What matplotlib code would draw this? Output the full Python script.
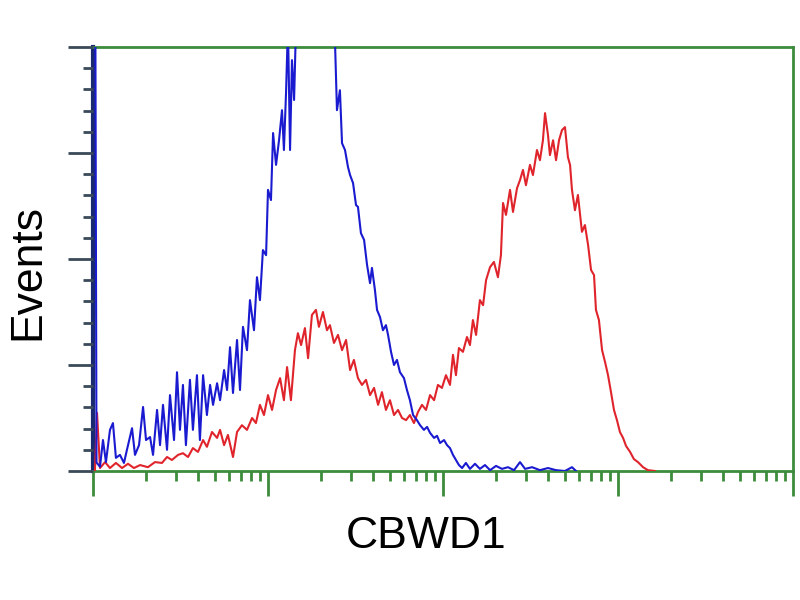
import numpy as np
import matplotlib.pyplot as plt

# ── Data: log fluorescence (decades) and event counts ──
blue_x = [0.0, 0.012, 0.02, 0.04, 0.057, 0.074, 0.097, 0.114, 0.131, 0.154, 0.177, 0.194,
          0.223, 0.24, 0.263, 0.286, 0.303, 0.326, 0.343, 0.366, 0.383, 0.40, 0.423, 0.44,
          0.463, 0.48, 0.497, 0.514, 0.531, 0.554, 0.571, 0.594, 0.611, 0.629, 0.651, 0.669,
          0.686, 0.709, 0.726, 0.749, 0.766, 0.783, 0.80, 0.823, 0.84, 0.857, 0.88, 0.897,
          0.92, 0.937, 0.954, 0.971, 0.989, 1.0, 1.017, 1.029, 1.046, 1.063, 1.08, 1.091,
          1.103, 1.114, 1.126, 1.137, 1.149, 1.16, 1.24, 1.297, 1.354, 1.383, 1.394, 1.411,
          1.423, 1.44, 1.457, 1.469, 1.486, 1.503, 1.514, 1.531, 1.549, 1.566, 1.583, 1.594,
          1.611, 1.623, 1.64, 1.657, 1.674, 1.686, 1.703, 1.72, 1.737, 1.754, 1.777, 1.794,
          1.811, 1.829, 1.851, 1.869, 1.891, 1.909, 1.926, 1.949, 1.966, 1.983, 2.006, 2.023,
          2.04, 2.057, 2.074, 2.091, 2.109, 2.131, 2.154, 2.183, 2.211, 2.24, 2.269, 2.303,
          2.337, 2.371, 2.406, 2.44, 2.469, 2.509, 2.554, 2.60, 2.646, 2.697, 2.737, 2.76]
blue_y = [130, 130, 2.0, 1.0, 7.3, 2.1, 9.7, 11.3, 3.1, 3.8, 1.9, 5.0,
          10.1, 3.8, 6.1, 15.1, 7.3, 8.0, 3.8, 14.4, 6.1, 15.6, 5.0, 17.9,
          7.3, 23.3, 9.7, 20.3, 6.1, 21.5, 9.7, 22.6, 7.3, 22.6, 13.2, 20.3,
          15.6, 20.7, 16.7, 23.8, 19.1, 29.2, 18.4, 30.9, 19.1, 34.0, 28.5, 40.3,
          33.2, 45.7, 40.3, 52.1, 50.9, 66.3, 63.9, 79.7, 72.2, 78.0, 85.1, 75.7,
          89.1, 105, 75.7, 96.9, 87.5, 105, 140, 150, 130, 101, 85.1, 89.8,
          77.3, 75.7, 71.7, 69.8, 67.9, 62.7, 62.3, 56.1, 54.5, 48.6, 44.3, 47.9,
          42.7, 38.0, 36.3, 33.2, 34.4, 32.1, 28.1, 25.0, 26.2, 23.3, 21.9, 19.1,
          16.7, 13.2, 12.0, 10.8, 9.7, 10.4, 9.0, 7.8, 8.3, 6.6, 7.3, 6.1,
          5.4, 3.8, 2.6, 1.4, 0.7, 1.9, 0.5, 1.7, 0.5, 1.4, 0.2, 1.2,
          0.5, 0.9, 0.2, 2.1, 0.5, 0.9, 0.2, 0.7, 0.2, 0.0, 0.9, 0.0]

red_x = [0.011, 0.023, 0.04, 0.069, 0.097, 0.131, 0.166, 0.20, 0.234, 0.269, 0.314, 0.354,
         0.394, 0.423, 0.451, 0.486, 0.514, 0.543, 0.571, 0.60, 0.629, 0.651, 0.68, 0.709,
         0.726, 0.749, 0.771, 0.80, 0.823, 0.851, 0.88, 0.909, 0.931, 0.954, 0.977, 1.0,
         1.023, 1.046, 1.069, 1.091, 1.109, 1.131, 1.154, 1.171, 1.189, 1.211, 1.229, 1.251,
         1.274, 1.291, 1.314, 1.337, 1.354, 1.377, 1.40, 1.423, 1.446, 1.469, 1.491, 1.514,
         1.537, 1.56, 1.583, 1.606, 1.629, 1.651, 1.674, 1.697, 1.72, 1.743, 1.766, 1.789,
         1.811, 1.834, 1.857, 1.88, 1.903, 1.926, 1.949, 1.971, 1.994, 2.017, 2.04, 2.057,
         2.074, 2.091, 2.114, 2.137, 2.154, 2.171, 2.189, 2.211, 2.229, 2.246, 2.269, 2.291,
         2.314, 2.331, 2.343, 2.36, 2.383, 2.40, 2.423, 2.44, 2.457, 2.474, 2.497, 2.514,
         2.537, 2.554, 2.571, 2.583, 2.60, 2.611, 2.629, 2.646, 2.663, 2.68, 2.697, 2.714,
         2.726, 2.737, 2.754, 2.771, 2.794, 2.811, 2.829, 2.846, 2.863, 2.874, 2.891, 2.909,
         2.926, 2.943, 2.96, 2.977, 2.994, 3.011, 3.029, 3.046, 3.069, 3.091, 3.114, 3.143,
         3.171, 3.211]
red_y = [0.0, 13.7, 0.7, 2.1, 0.7, 1.9, 0.7, 1.7, 0.7, 1.4, 0.9, 2.1,
         1.9, 3.3, 2.6, 3.8, 4.2, 3.3, 5.4, 4.5, 7.3, 5.7, 9.2, 7.8,
         9.7, 6.1, 8.5, 3.3, 9.2, 10.8, 9.7, 12.5, 11.3, 15.6, 13.2, 17.9,
         14.4, 19.1, 21.9, 16.7, 24.5, 16.7, 28.5, 32.5, 29.7, 33.7, 26.6, 36.8,
         38.0, 34.0, 37.5, 33.2, 34.4, 30.2, 32.1, 28.5, 30.9, 23.8, 26.2, 21.9,
         20.3, 21.5, 17.9, 19.6, 15.6, 18.6, 14.4, 16.7, 13.2, 14.4, 12.5, 12.0,
         13.2, 11.3, 13.9, 15.6, 14.4, 17.9, 16.7, 20.3, 19.6, 22.6, 20.3, 27.4,
         22.6, 29.0, 28.1, 31.6, 29.7, 35.6, 32.1, 40.3, 39.1, 45.0, 48.1, 49.3,
         45.7, 50.9, 63.2, 60.4, 66.3, 61.1, 66.7, 68.6, 71.0, 67.4, 72.2, 69.8,
         75.7, 73.3, 78.0, 84.4, 79.2, 74.5, 78.0, 73.3, 78.0, 80.4, 81.1, 74.0,
         72.2, 66.3, 61.5, 65.1, 56.4, 58.0, 53.3, 47.4, 46.2, 38.0, 35.6, 28.5,
         25.7, 22.6, 18.6, 14.4, 12.0, 9.2, 7.8, 5.9, 4.5, 2.8, 2.1, 0.9,
         0.2, 0.0]

green = '#3c8c3c'

fig = plt.figure(figsize=(8, 6), dpi=100)
ax = fig.add_axes([0.11625, 0.215, 0.875, 0.7067])

ax.plot(red_x, red_y, color='#e0242c', lw=1.5, zorder=2)
ax.plot(blue_x, blue_y, color='#1a1ad0', lw=1.5, zorder=3)

ax.set_xlim(0, 4)
ax.set_ylim(0, 100)

for s in ax.spines.values():
    s.set_color(green)
    s.set_linewidth(2)
    s.set_zorder(1)
ax.spines['left'].set_color('#1a2a70')
ax.spines['left'].set_linewidth(3)

# log-style ticks on the decade axis
major_x = np.arange(0, 5)
minor_x = [d + np.log10(k) for d in range(4) for k in range(2, 10)]
ax.set_xticks(major_x)
ax.set_xticks(minor_x, minor=True)
ax.set_yticks([0, 25, 50, 75, 100])
ax.set_yticks([v for v in range(0, 101, 5) if v % 25], minor=True)
ax.tick_params(axis='both', which='major', direction='out', length=18, width=2,
               color=green, labelbottom=False, labelleft=False)
ax.tick_params(axis='both', which='minor', direction='out', length=7, width=2,
               color=green)
ax.tick_params(axis='y', which='both', color='#3a4a5a')

fig.text(0.035, 0.547, 'Events', rotation=90, ha='center', va='center',
         fontsize=32, family='Liberation Sans')
fig.text(0.533, 0.105, 'CBWD1', ha='center', va='center',
         fontsize=32, family='Liberation Sans')

fig.savefig('out.png', dpi=100)
